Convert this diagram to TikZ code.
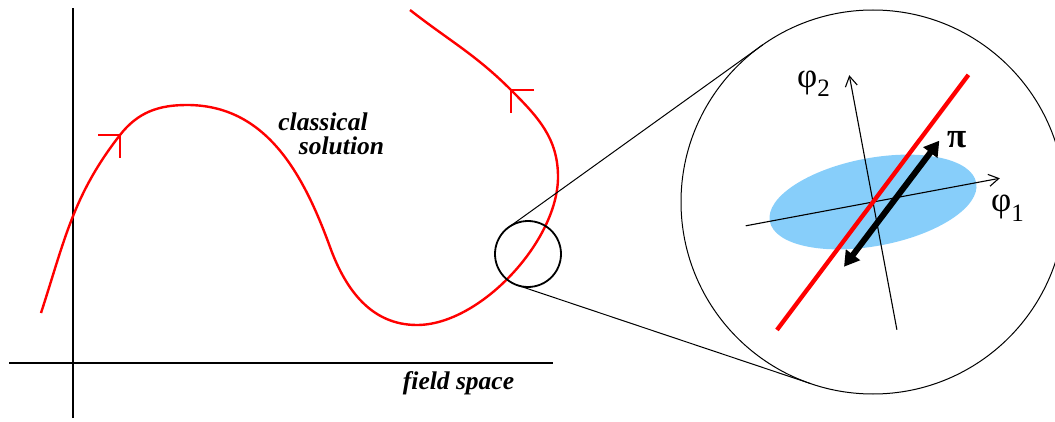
\documentclass[tikz,border=0pt]{standalone}
\usepackage{fontspec}
\setmainfont{Liberation Serif}
\usetikzlibrary{arrows.meta}
\definecolor{blobblue}{RGB}{135,206,250}
\newcommand\lowidx[2]{\raisebox{-#1}{\fontsize{25}{25}\selectfont #2}}

\begin{document}
\begin{tikzpicture}[x=1pt,y=1pt,
    flow/.style={red,line width=2.4pt,line join=round},
    axis/.style={line width=1.8pt},
    ray/.style={line width=1pt},
    fld/.style={line width=1.1pt,-{Straight Barb[length=10pt,width=12pt]}},
    lbl/.style={font=\fontsize{25.5}{27}\selectfont\bfseries\itshape,inner sep=0pt,anchor=base},
    greek/.style={font=\fontsize{35}{36}\selectfont,inner sep=0pt,anchor=base west},
    zoomring/.style={circle,draw,inner sep=0pt,outer sep=0pt}]
  \useasboundingbox (0,0) rectangle (1055,421);
  % field space axes
  \draw[axis] (73,3) -- (73,413);
  \draw[axis] (9,58) -- (553,58);
  \node[lbl] (fs) at (458.5,32) {field space};
  % classical solution
  \coordinate (m1) at (120,286);
  \coordinate (m2) at (511,331);
  \draw[flow] (41,108) to[out=72,in=232] (m1) to[out=52,in=180] (187,316)
    to[out=0,in=110] (330,174) to[out=-70,in=180] (417,96)
    .. controls (480,96) and (558,180) .. (558,244)
    to[out=90,in=-45] (m2) to[out=135,in=-38] (410,411);
  \draw[flow] ([xshift=-22pt]m1) -- (m1) -- ([yshift=-23pt]m1);
  \draw[flow] ([xshift=23pt]m2) -- (m2) -- ([yshift=-23pt]m2);
  \node[lbl] (cls) at (323,290) {classical};
  \node[lbl] (sol) at (341.5,266) {solution};
  % zoom
  \node[zoomring,line width=1.8pt,minimum size=66pt] (small) at (528,167) {};
  \node[zoomring,line width=1pt,minimum size=384pt] (big) at (873,219) {};
  \draw[ray] (small.125.7) -- (big.125.7);
  \draw[ray] (small.251.5) -- (big.251.5);
  \begin{scope}[shift={(big.center)},rotate=10.6]
    \fill[blobblue] (0,0) ellipse [x radius=105,y radius=44];
    \draw[fld] (-129.5,0) -- (129,0);
    \draw[fld] (0,-130) -- (0,129);
    \draw[red,line width=4.3pt] (222.5:160) -- (42.5:159);
    \draw[line width=6pt,{Triangle[length=15pt,width=17pt]}-{Triangle[length=15pt,width=17pt]}]
      (-40.4,-58.3) -- (76.5,48.1);
  \end{scope}
  \node[greek] (phitwo) at (797,333) {φ\lowidx{9pt}{2}};
  \node[greek] (phione) at (991,210) {φ\lowidx{10pt}{1}};
  \node[greek,font=\fontsize{35}{36}\selectfont\bfseries] (pi) at (947,273) {π};
\end{tikzpicture}
\end{document}
